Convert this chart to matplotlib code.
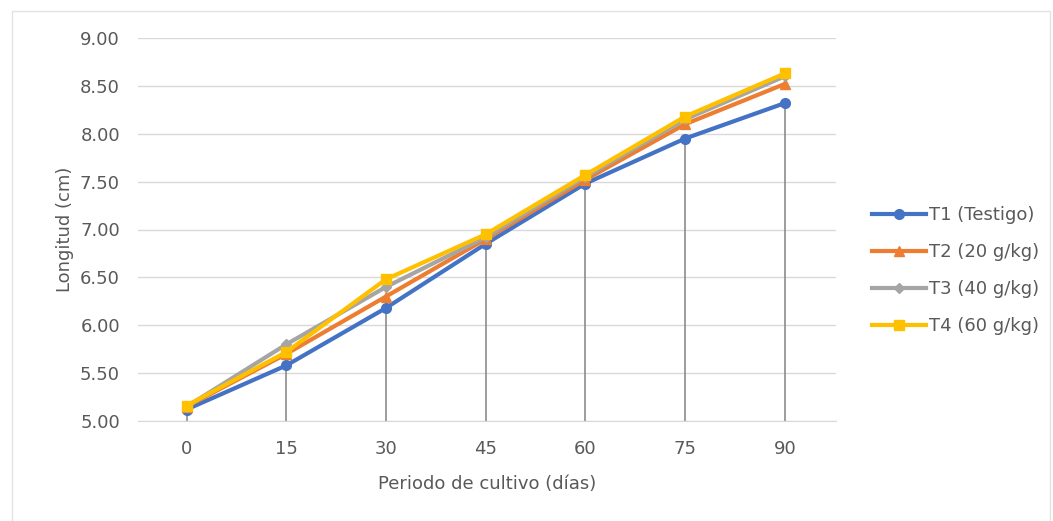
import matplotlib.pyplot as plt
from matplotlib.patches import Rectangle

# Periodo de cultivo y longitud media por tratamiento
dias = [0, 15, 30, 45, 60, 75, 90]
t1 = [5.12, 5.58, 6.18, 6.85, 7.48, 7.95, 8.32]
t2 = [5.15, 5.70, 6.30, 6.90, 7.52, 8.10, 8.52]
t3 = [5.15, 5.80, 6.40, 6.92, 7.55, 8.15, 8.60]
t4 = [5.16, 5.72, 6.48, 6.95, 7.57, 8.18, 8.63]
etiquetas = ['T1 (Testigo)', 'T2 (20 g/kg)', 'T3 (40 g/kg)', 'T4 (60 g/kg)']
yticks = [5.0, 5.5, 6.0, 6.5, 7.0, 7.5, 8.0, 8.5, 9.0]

gris_texto = '#595959'

fig = plt.figure(figsize=(10.53, 5.21), dpi=100)
ax = fig.add_axes([138 / 1053, 100 / 521, 698 / 1053, 383 / 521])

# borde del área del gráfico
fig.patches.append(Rectangle((12 / 1053, -0.1), 1038 / 1053, (521 - 11) / 521 + 0.1,
                             transform=fig.transFigure, fill=False,
                             edgecolor='#e3e3e3', linewidth=1))

# líneas de proyección desde T1 hasta el eje
ax.vlines(dias, 5.0, t1, color='#8c8c8c', linewidth=1.2, zorder=1)

series = [
    (t1, '#4472C4', 'o', 7),
    (t2, '#ED7D31', '^', 7),
    (t3, '#A5A5A5', 'D', 5),
    (t4, '#FFC000', 's', 7),
]
for (vals, color, marker, ms), lab in zip(series, etiquetas):
    ax.plot(dias, vals, color=color, marker=marker, markersize=ms,
            linewidth=3, label=lab, zorder=3)

ax.set_xlim(-7.3, 97.7)
ax.set_ylim(5.0, 9.0)
ax.set_xticks(dias)
ax.set_yticks(yticks)
ax.set_yticklabels([f'{v:.2f}' for v in yticks])
ax.grid(axis='y', color='#d9d9d9', linewidth=1)
ax.set_axisbelow(True)
for s in ['top', 'right', 'left']:
    ax.spines[s].set_visible(False)
ax.spines['bottom'].set_color('#d9d9d9')
ax.tick_params(axis='both', length=0, labelsize=13, colors=gris_texto)
ax.tick_params(axis='y', pad=13)
ax.tick_params(axis='x', pad=14)

ax.set_xlabel('Periodo de cultivo (días)', fontsize=13, color=gris_texto, labelpad=12)
ax.set_ylabel('Longitud (cm)', fontsize=13, color=gris_texto, labelpad=4)

ax.legend(loc='center left', bbox_to_anchor=(1.0516, 0.392), frameon=False,
          borderpad=0, borderaxespad=0, fontsize=13, labelcolor=gris_texto,
          handlelength=3.0, handletextpad=0.15, labelspacing=1.05)

fig.savefig('out.png', dpi=100)
